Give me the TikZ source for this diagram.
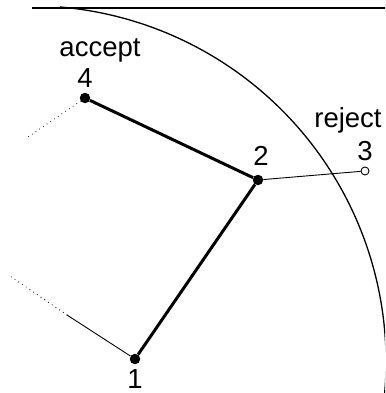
\documentclass[tikz,border=0pt]{standalone}
\usepackage{fontspec}
\setmainfont{Liberation Sans}
\begin{document}
\begin{tikzpicture}[x=1pt,y=1pt,
  vtx/.style={circle,fill=black,inner sep=0pt,minimum size=10.5pt},
  opvtx/.style={circle,draw=black,line width=0.9pt,fill=white,inner sep=0pt,minimum size=8pt},
  lab/.style={anchor=base,inner sep=0pt,font=\fontsize{27.5}{30}\selectfont},
  thickedge/.style={line width=3pt},
  thinedge/.style={line width=0.9pt},
  dotedge/.style={line width=1.1pt,line cap=round,dash pattern=on 0pt off 4.5pt},
  bound/.style={line width=1.3pt}]
\useasboundingbox (0,0) rectangle (385,-393);
% boundary curves
\begin{scope}
\clip (0,0) rectangle (385,-393);
\draw[bound] (32,-8) -- (386,-8);
\draw[bound] (60,-7) arc[start angle=85.17, end angle=-10, radius=356];
\end{scope}
% vertices
\node[vtx] (n4) at (85,-98) {};
\node[vtx] (n2) at (258,-180) {};
\node[vtx] (n1) at (135,-359) {};
\coordinate (d4) at (28,-137);
\coordinate (m1) at (67,-315);
\coordinate (d1) at (10,-276);
% edges
\draw[thickedge] (n4) -- (n2);
\draw[thickedge] (n2) -- (n1);
\draw[dotedge] (n4) -- (d4);
\draw[thinedge] (n1) -- (m1);
\draw[dotedge] (m1) -- (d1);
\node[opvtx] (n3) at (365,-171) {};
\draw[thinedge] (n2) -- (n3);
% labels
\node[lab] (tacc) at (100,-57) {accept};
\node[lab] (t4) at (85,-88) {4};
\node[lab] (t2) at (261,-165) {2};
\node[lab] (trej) at (348,-127) {reject};
\node[lab] (t3) at (365,-160) {3};
\node[lab] (t1) at (135,-388) {1};
\end{tikzpicture}
\end{document}
